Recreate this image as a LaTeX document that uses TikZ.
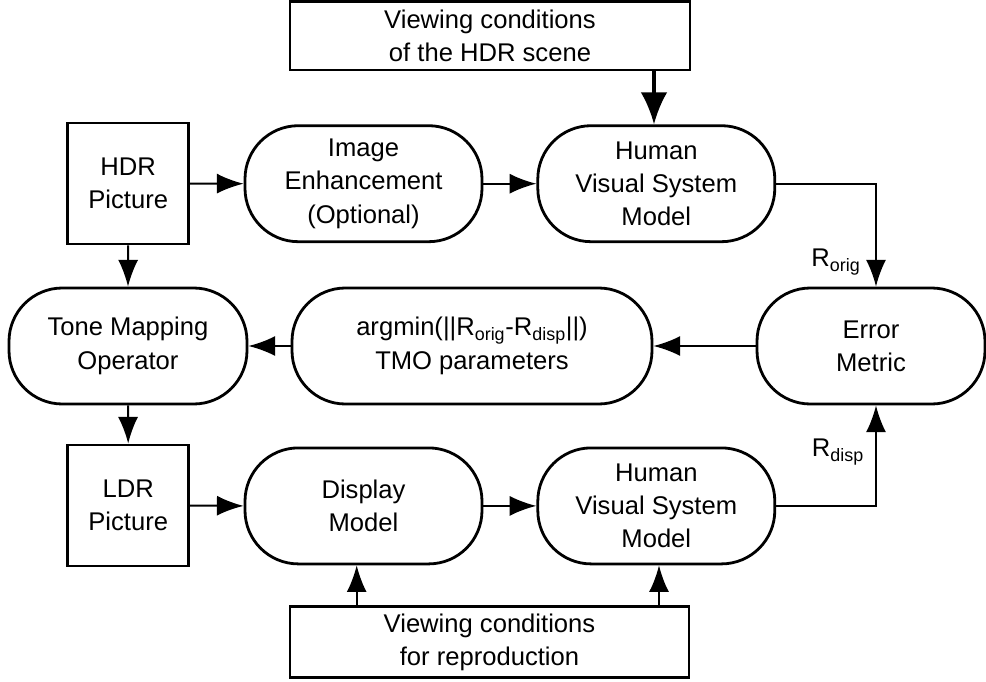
\documentclass[tikz,border=0pt]{standalone}
\usepackage{fontspec}
\setmainfont{Liberation Sans}
\usetikzlibrary{arrows.meta}
\begin{document}
\begin{tikzpicture}[x=0.75pt,y=-0.75pt,
  every node/.style={font=\fontsize{19.2}{25}\selectfont, align=center, inner sep=0pt},
  sqbox/.style={draw, line width=2.1pt, rectangle},
  pill/.style={draw, line width=2.1pt, rectangle, rounded corners=40pt, minimum height=87pt},
  arr/.style={line width=1.5pt, -{Latex[length=20pt,width=15pt]}},
  bigarr/.style={line width=2.4pt, -{Latex[length=24pt,width=20pt]}},
  lbl/.style={font=\fontsize{19.2}{22}\selectfont}
]
\useasboundingbox (0,0) rectangle (986,682);
\clip (0,0) rectangle (986,682);

\node[sqbox, minimum width=300pt, minimum height=51.4pt] (top) at (490,35.75) {Viewing conditions\\of the HDR scene};
\node[sqbox, minimum width=90.75pt, minimum height=90.75pt] (hdr) at (128.2,183.5) {HDR\\Picture};
\node[pill, minimum width=177.75pt] (ie) at (363.5,183.7) {Image\\Enhancement\\(Optional)};
\node[pill, minimum width=177.75pt] (hvs1) at (656.3,183.7) {Human\\Visual System\\Model};
\node[pill, minimum width=178.5pt] (tmo) at (128,346) {Tone Mapping\\Operator};
\node[pill, minimum width=270pt] (argmin) at (472,346) {argmin(||R\textsubscript{orig}-R\textsubscript{disp}||)\\TMO parameters};
\node[pill, minimum width=171pt] (err) at (871,346) {Error\\Metric};
\node[sqbox, minimum width=90.75pt, minimum height=90.75pt] (ldr) at (128.2,505.5) {LDR\\Picture};
\node[pill, minimum width=177.75pt] (disp) at (363.5,505.9) {Display\\Model};
\node[pill, minimum width=177.75pt] (hvs2) at (656.3,505.9) {Human\\Visual System\\Model};
\node[sqbox, minimum width=299.25pt, minimum height=53.25pt] (bot) at (489.5,642.2) {Viewing conditions\\for reproduction};

\coordinate (t1) at (654,70);
\coordinate (c1) at (876,183.7);
\coordinate (c2) at (876,505.9);
\coordinate (b1) at (356.7,606.7);
\coordinate (b2) at (659,606.7);

\draw[bigarr] (t1) -- (t1 |- hvs1.north);
\draw[arr] (hdr.east) -- (ie.west);
\draw[arr] (ie.east) -- (hvs1.west);
\draw[arr] (hvs1.east) -- (c1) -- (c1 |- err.north);
\draw[arr] (hdr.south) -- (tmo.north);
\draw[arr] (err.west) -- (argmin.east);
\draw[arr] (argmin.west) -- (tmo.east);
\draw[arr] (tmo.south) -- (ldr.north);
\draw[arr] (ldr.east) -- (disp.west);
\draw[arr] (disp.east) -- (hvs2.west);
\draw[arr] (hvs2.east) -- (c2) -- (c2 |- err.south);
\draw[arr] (b1) -- (b1 |- disp.south);
\draw[arr] (b2) -- (b2 |- hvs2.south);

\node[lbl] (ro) at (836,262) {R\textsubscript{orig}};
\node[lbl] (rd) at (838,452) {R\textsubscript{disp}};
\end{tikzpicture}
\end{document}
